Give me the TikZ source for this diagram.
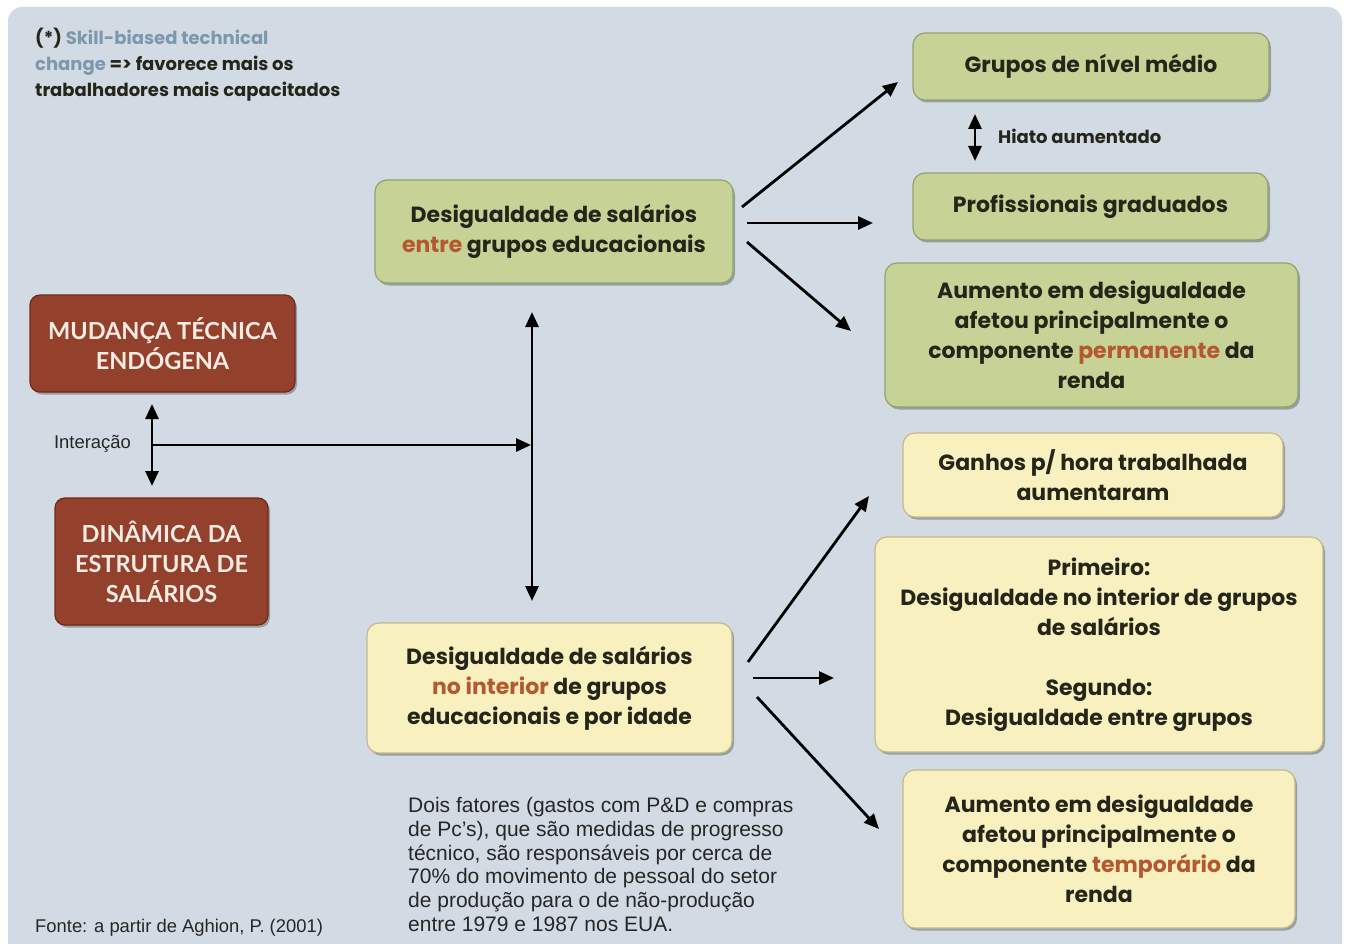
\documentclass[tikz,border=0pt]{standalone}
\usepackage{fontspec}
\setmainfont{Liberation Sans}
\newfontfamily\gothic{Poppins}
\newfontfamily\capsfont{Lato}
\usetikzlibrary{arrows.meta,shadows}

\definecolor{panel}{HTML}{D2DBE4}
\definecolor{greenfill}{HTML}{C6D296}
\definecolor{greenedge}{HTML}{93A16D}
\definecolor{yellowfill}{HTML}{F8F0BF}
\definecolor{yellowedge}{HTML}{C4B98A}
\definecolor{redfill}{HTML}{93402C}
\definecolor{rededge}{HTML}{72291C}
\definecolor{redtext}{HTML}{F7ECE3}
\definecolor{ink}{HTML}{25251A}
\definecolor{hl}{HTML}{B4592F}
\definecolor{skill}{HTML}{7D97AD}

\tikzset{
  boxshadow/.style={drop shadow={shadow xshift=2pt,shadow yshift=-2.5pt,fill=black,opacity=.28}},
  gbox/.style={rectangle, rounded corners=12, fill=greenfill, draw=greenedge, line width=1.2pt,
    boxshadow, inner sep=0pt, align=center, text=ink,
    font=\gothic\bfseries\fontsize{22}{30}\selectfont},
  ybox/.style={gbox, fill=yellowfill, draw=yellowedge},
  rbox/.style={rectangle, rounded corners=10, fill=redfill, draw=rededge, line width=1.2pt,
    boxshadow, inner sep=0pt, align=center, text=redtext,
    font=\capsfont\bfseries\fontsize{23.5}{30}\selectfont},
  arr/.style={line width=2.8pt, draw=black, -{Triangle[length=15pt,width=13pt]}},
  dblarr/.style={line width=2.8pt, draw=black, {Triangle[length=15pt,width=13pt]}-{Triangle[length=15pt,width=13pt]}},
  note/.style={inner sep=0pt, text=ink, font=\gothic\bfseries\fontsize{18}{26}\selectfont},
  plain/.style={inner sep=0pt, text=black!85, font=\fontsize{18.4}{21}\selectfont}
}

\begin{document}
\begin{tikzpicture}[x=1pt,y=-1pt]
  % page and panel
  \useasboundingbox (0,0) rectangle (1347,944);
  \fill[white] (0,0) rectangle (1347,944);
  \fill[panel, rounded corners=14] (8,7) rectangle (1342,965);

  % note at top left
  \node[note, anchor=north west, align=left] (skillnote) at (35,28)
    {(*) {\color{skill}Skill-biased technical}\\
     {\color{skill}change} => favorece mais os\\
     trabalhadores mais capacitados};

  % left column
  \node[rbox, minimum width=265, minimum height=97] (mud) at (162.5,343.5)
    {MUDANÇA TÉCNICA\\ENDÓGENA};
  \node[rbox, minimum width=213, minimum height=127] (din) at (161.5,561.5)
    {DINÂMICA DA\\ESTRUTURA DE\\SALÁRIOS};

  % central boxes
  \node[gbox, minimum width=358, minimum height=103] (entre) at (554,231.5)
    {Desigualdade de salários\\{\color{hl}entre} grupos educacionais};
  \node[ybox, minimum width=365, minimum height=130] (interior) at (549.5,688)
    {Desigualdade de salários\\{\color{hl}no interior} de grupos\\educacionais e por idade};

  % right column, upper group
  \node[gbox, minimum width=356, minimum height=67] (medio) at (1091,66.5)
    {Grupos de nível médio};
  \node[gbox, minimum width=355, minimum height=67] (grad) at (1090.5,206.5)
    {Profissionais graduados};
  \node[gbox, minimum width=413, minimum height=144] (perm) at (1091.5,335)
    {Aumento em desigualdade\\afetou principalmente o\\componente {\color{hl}permanente} da\\renda};

  % right column, lower group
  \node[ybox, minimum width=380, minimum height=84] (ganhos) at (1093,475)
    {Ganhos p/ hora trabalhada\\aumentaram};
  \node[ybox, minimum width=448, minimum height=215] (ordem) at (1099,644.5)
    {Primeiro:\\Desigualdade no interior de grupos\\de salários\\[30pt]Segundo:\\Desigualdade entre grupos};
  \node[ybox, minimum width=392, minimum height=158] (temp) at (1099,849)
    {Aumento em desigualdade\\afetou principalmente o\\componente {\color{hl}temporário} da\\renda};

  % free texts
  \node[note, anchor=west] (hiato) at (998,136) {Hiato aumentado};
  \node[plain, anchor=east] (interacao) at (131,444) {Interação};
  \node[plain, anchor=base west] (fonte) at (35,932) {Fonte: a partir de Aghion, P. (2001)};
  \node[inner sep=0pt, anchor=north west, align=left, text=black!85,
        font=\fontsize{21}{23.8}\selectfont] (fatores) at (408,797)
    {Dois fatores (gastos com P\&D e compras\\
     de Pc’s), que são medidas de progresso\\
     técnico, são responsáveis por cerca de\\
     70\% do movimento de pessoal do setor\\
     de produção para o de não-produção\\
     entre 1979 e 1987 nos EUA.};

  % arrow end points
  \coordinate (hiatoTop) at (975,114);
  \coordinate (hiatoBot) at (975,161);
  \coordinate (interTop) at (152,404);
  \coordinate (interBot) at (152,486);
  \coordinate (interMid) at (152,445);
  \coordinate (axisTop) at (532,312);
  \coordinate (axisBot) at (532,601);
  \coordinate (axisMid) at (531,445);
  \coordinate (e1) at (742,207);
  \coordinate (e2) at (747,223);
  \coordinate (e3) at (747,242);
  \coordinate (toMedio) at (898,82);
  \coordinate (toGrad) at (873,223);
  \coordinate (toPerm) at (851,331);
  \coordinate (i1) at (748,662);
  \coordinate (i2) at (753,678);
  \coordinate (i3) at (757,697);
  \coordinate (toGanhos) at (869,496);
  \coordinate (toOrdem) at (834,678);
  \coordinate (toTemp) at (879,829);

  % connectors
  \draw[dblarr] (hiatoTop) -- (hiatoBot);
  \draw[dblarr] (interTop) -- (interBot);
  \draw[arr] (interMid) -- (axisMid);
  \draw[dblarr] (axisTop) -- (axisBot);
  \draw[arr] (e1) -- (toMedio);
  \draw[arr] (e2) -- (toGrad);
  \draw[arr] (e3) -- (toPerm);
  \draw[arr] (i1) -- (toGanhos);
  \draw[arr] (i2) -- (toOrdem);
  \draw[arr] (i3) -- (toTemp);
\end{tikzpicture}
\end{document}
